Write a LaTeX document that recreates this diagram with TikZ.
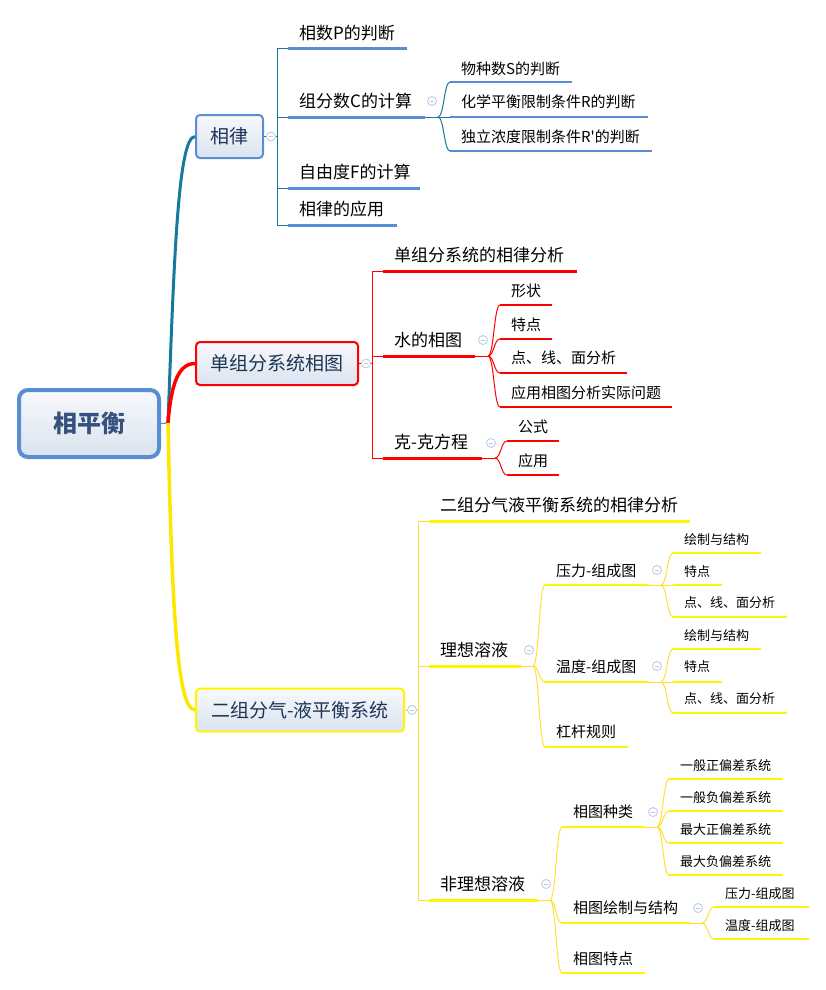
\documentclass[tikz,border=0pt]{standalone}
\usepackage{fontspec}
\setmainfont{Noto Sans CJK SC}
\newfontfamily\plainq{Noto Sans CJK SC}[Ligatures=TeXOff]
\usetikzlibrary{calc}
\definecolor{teal1}{HTML}{17799B}
\definecolor{blue1}{HTML}{5A8ED2}
\definecolor{red1}{HTML}{FF0000}
\definecolor{yel1}{HTML}{FFF500}
\definecolor{yel2}{HTML}{FFDF30}
\definecolor{yel3}{HTML}{FFE600}
\definecolor{box1}{HTML}{F7F9FC}
\definecolor{box2}{HTML}{DAE3EF}
\definecolor{navy}{HTML}{1E3555}
\definecolor{roottext}{HTML}{34527D}
\definecolor{coll}{HTML}{B7C9E6}
\newcommand{\mmleaf}[8]{%
  \coordinate (#1-s) at (#2,#4);
  \coordinate (#1-e) at (#3,#4);
  \draw[#6] (#1-s) -- (#1-e);
  \node[anchor=base west, #7] (#1) at (#2+11,#5) {#8};
}
\newcommand{\mmjunction}[3]{%
  \coordinate (#1) at (#2,#3);
  \coordinate (#1-c) at (#2+6,#3);
}
\newcommand{\mmbranch}[3]{%
  \draw[#3] (#1) .. controls (#1-c) and (#1-c |- #2-s) .. (#2-s);
}
\newcommand{\mmstub}[3]{%
  \draw[#3] (#1 |- #2-s) -- (#2-s);
}
\begin{document}
\begin{tikzpicture}[x=1pt,y=-1pt,
  txt/.style={inner sep=0pt, text=black},
  ltwo/.style={txt, font=\fontsize{17}{17}\selectfont, yshift=-6.5pt},
  lthree/.style={txt, font=\fontsize{15}{15}\selectfont, yshift=-5.7pt},
  lfour/.style={txt, font=\fontsize{13}{13}\selectfont, yshift=-4.9pt},
  lonebox/.style={rounded corners=4pt, line width=2pt, top color=box1, bottom color=box2,
     text=navy, font=\fontsize{19}{19}\selectfont, inner sep=0pt, minimum height=43pt},
  rootbox/.style={rounded corners=9pt, line width=4pt, draw=blue1, top color=box1, bottom color=box2,
     text=roottext, font=\fontsize{24}{24}\selectfont\bfseries, inner sep=0pt,
     minimum width=140pt, minimum height=67pt},
  collapse/.style={circle, draw=coll, fill=white, line width=0.8pt, minimum size=9pt, inner sep=0pt,
     path picture={\draw[coll, line width=0.8pt] ([xshift=-2.4pt]path picture bounding box.center) -- ([xshift=2.4pt]path picture bounding box.center);}},
  tthin/.style={teal1, line width=1pt},
  rthin/.style={red1, line width=1pt},
  ythin/.style={yel2, line width=1pt},
  bu/.style={blue1, line width=3pt},
  bu3/.style={blue1, line width=2.6pt},
  ru/.style={red1, line width=3pt},
  ru3/.style={red1, line width=2.6pt},
  yu/.style={yel1, line width=3pt},
  yu3/.style={yel1, line width=2.6pt},
  yu4/.style={yel1, line width=2.4pt}
]
\useasboundingbox (0,0) rectangle (826,990);

% root and level-1 boxes
\node[rootbox] (root) at (89,423.5) {相平衡};
\node[lonebox, draw=blue1, minimum width=67pt] (xl) at (229.5,136.5) {相律};
\node[lonebox, draw=red1, minimum width=162pt] (dz) at (277,363.5) {单组分系统相图};
\node[lonebox, draw=yel1, minimum width=208pt] (ez) at (300,710) {二组分气-液平衡系统};

% root connectors
\coordinate (rootc) at (168,423);
\draw[blue1, line width=1.2pt] (root.east) -- (rootc);
\draw[teal1, line width=3pt] (rootc) .. controls (174,260) and (178,136.5) .. (xl.west);
\draw[red1, line width=3.5pt] (rootc) .. controls (171,385) and (178,363.5) .. (dz.west);
\draw[yel3, line width=3.5pt] (rootc) .. controls (172,620) and (178,710) .. (ez.west);

% ---------- group A : 相律 ----------
\coordinate (xl-j) at (277,136.5);
\mmleaf{a1}{288}{407}{49}{33}{bu}{ltwo}{相数P的判断}
\mmleaf{a2}{288}{425}{117}{101}{bu}{ltwo}{组分数C的计算}
\mmleaf{a3}{288}{420}{188}{172}{bu}{ltwo}{自由度F的计算}
\mmleaf{a4}{288}{397}{225}{209}{bu}{ltwo}{相律的应用}
\draw[tthin] (xl.east) -- (xl-j);
\draw[tthin] (xl-j |- a1-s) -- (xl-j |- a4-s);
\mmstub{xl-j}{a1}{tthin}
\mmstub{xl-j}{a2}{tthin}
\mmstub{xl-j}{a3}{tthin}
\mmstub{xl-j}{a4}{tthin}
\node[collapse] (xl-c) at (271,136.5) {};

\mmleaf{b1}{450}{572}{82}{68.5}{bu3}{lthree}{物种数S的判断}
\mmleaf{b2}{450}{648}{117}{102}{bu3}{lthree}{化学平衡限制条件R的判断}
\mmleaf{b3}{450}{652}{151}{137}{bu3}{lthree}{独立浓度限制条件R{\plainq '}的判断}
\mmjunction{a2-j}{438}{117}
\draw[tthin] (a2-e) -- (a2-j);
\mmbranch{a2-j}{b1}{tthin}
\mmbranch{a2-j}{b2}{tthin}
\mmbranch{a2-j}{b3}{tthin}
\node[collapse] (a2-c) at (432,101) {};

% ---------- group B : 单组分系统相图 ----------
\coordinate (dz-j) at (372,363.5);
\mmleaf{c1}{383}{577}{271}{255}{ru}{ltwo}{单组分系统的相律分析}
\mmleaf{c2}{383}{475}{356}{340}{ru}{ltwo}{水的相图}
\mmleaf{c3}{383}{482}{458}{442}{ru}{ltwo}{克-克方程}
\draw[rthin] (dz.east) -- (dz-j);
\draw[rthin] (dz-j |- c1-s) -- (dz-j |- c3-s);
\mmstub{dz-j}{c1}{rthin}
\mmstub{dz-j}{c2}{rthin}
\mmstub{dz-j}{c3}{rthin}
\node[collapse] (dz-c) at (366,363.5) {};

\mmleaf{d1}{500}{552}{305}{291}{ru3}{lthree}{形状}
\mmleaf{d2}{500}{552}{339}{325}{ru3}{lthree}{特点}
\mmleaf{d3}{500}{627}{373}{358}{ru3}{lthree}{点、线、面分析}
\mmleaf{d4}{500}{672}{407}{393}{ru3}{lthree}{应用相图分析实际问题}
\mmjunction{c2-j}{488}{356}
\draw[rthin] (c2-e) -- (c2-j);
\mmbranch{c2-j}{d1}{rthin}
\mmbranch{c2-j}{d2}{rthin}
\mmbranch{c2-j}{d3}{rthin}
\mmbranch{c2-j}{d4}{rthin}
\node[collapse] (c2-c) at (483,340) {};

\mmleaf{e1}{507}{559}{441}{427}{ru3}{lthree}{公式}
\mmleaf{e2}{507}{559}{475}{461}{ru3}{lthree}{应用}
\mmjunction{c3-j}{495}{458}
\draw[rthin] (c3-e) -- (c3-j);
\mmbranch{c3-j}{e1}{rthin}
\mmbranch{c3-j}{e2}{rthin}
\node[collapse] (c3-c) at (491,443) {};

% ---------- group C : 二组分气-液平衡系统 ----------
\coordinate (ez-j) at (418,710);
\mmleaf{f1}{429}{690}{521}{505}{yu}{ltwo}{二组分气液平衡系统的相律分析}
\mmleaf{f2}{429}{521}{666}{650}{yu}{ltwo}{理想溶液}
\mmleaf{f3}{429}{538}{900}{884}{yu}{ltwo}{非理想溶液}
\draw[ythin] (ez.east) -- (ez-j);
\draw[ythin] (ez-j |- f1-s) -- (ez-j |- f3-s);
\mmstub{ez-j}{f1}{ythin}
\mmstub{ez-j}{f2}{ythin}
\mmstub{ez-j}{f3}{ythin}
\node[collapse] (ez-c) at (412,710) {};

\mmleaf{g1}{545}{649}{585}{571}{yu3}{lthree}{压力-组成图}
\mmleaf{g2}{545}{649}{682}{667}{yu3}{lthree}{温度-组成图}
\mmleaf{g3}{545}{628}{747}{732}{yu3}{lthree}{杠杆规则}
\mmjunction{f2-j}{533}{666}
\draw[ythin] (f2-e) -- (f2-j);
\mmbranch{f2-j}{g1}{ythin}
\mmbranch{f2-j}{g2}{ythin}
\mmbranch{f2-j}{g3}{ythin}
\node[collapse] (f2-c) at (529,650) {};

\mmleaf{h1}{673}{761}{553}{540}{yu4}{lfour}{绘制与结构}
\mmleaf{h2}{673}{722}{585}{572}{yu4}{lfour}{特点}
\mmleaf{h3}{673}{787}{617}{603}{yu4}{lfour}{点、线、面分析}
\mmjunction{g1-j}{661}{585}
\draw[ythin] (g1-e) -- (g1-j);
\mmbranch{g1-j}{h1}{ythin}
\mmbranch{g1-j}{h2}{ythin}
\mmbranch{g1-j}{h3}{ythin}
\node[collapse] (g1-c) at (657,570) {};

\mmleaf{i1}{673}{761}{649}{636}{yu4}{lfour}{绘制与结构}
\mmleaf{i2}{673}{722}{682}{667}{yu4}{lfour}{特点}
\mmleaf{i3}{673}{787}{713}{699}{yu4}{lfour}{点、线、面分析}
\mmjunction{g2-j}{661}{682}
\draw[ythin] (g2-e) -- (g2-j);
\mmbranch{g2-j}{i1}{ythin}
\mmbranch{g2-j}{i2}{ythin}
\mmbranch{g2-j}{i3}{ythin}
\node[collapse] (g2-c) at (657,666) {};

\mmleaf{j1}{562}{645}{827}{812}{yu3}{lthree}{相图种类}
\mmleaf{j2}{562}{690}{923}{908}{yu3}{lthree}{相图绘制与结构}
\mmleaf{j3}{562}{645}{973}{959}{yu3}{lthree}{相图特点}
\mmjunction{f3-j}{550}{900}
\draw[ythin] (f3-e) -- (f3-j);
\mmbranch{f3-j}{j1}{ythin}
\mmbranch{f3-j}{j2}{ythin}
\mmbranch{f3-j}{j3}{ythin}
\node[collapse] (f3-c) at (546,884) {};

\mmleaf{k1}{669}{783}{779}{766}{yu4}{lfour}{一般正偏差系统}
\mmleaf{k2}{669}{783}{811}{798}{yu4}{lfour}{一般负偏差系统}
\mmleaf{k3}{669}{783}{843}{830}{yu4}{lfour}{最大正偏差系统}
\mmleaf{k4}{669}{783}{875}{862}{yu4}{lfour}{最大负偏差系统}
\mmjunction{j1-j}{657}{827}
\draw[ythin] (j1-e) -- (j1-j);
\mmbranch{j1-j}{k1}{ythin}
\mmbranch{j1-j}{k2}{ythin}
\mmbranch{j1-j}{k3}{ythin}
\mmbranch{j1-j}{k4}{ythin}
\node[collapse] (j1-c) at (653,812) {};

\mmleaf{m1}{714}{809}{907}{894}{yu4}{lfour}{压力-组成图}
\mmleaf{m2}{714}{809}{939}{926}{yu4}{lfour}{温度-组成图}
\mmjunction{j2-j}{702}{923}
\draw[ythin] (j2-e) -- (j2-j);
\mmbranch{j2-j}{m1}{ythin}
\mmbranch{j2-j}{m2}{ythin}
\node[collapse] (j2-c) at (698,908) {};
\end{tikzpicture}
\end{document}
